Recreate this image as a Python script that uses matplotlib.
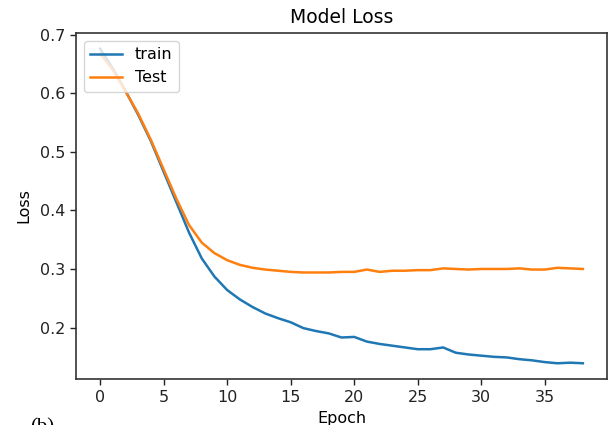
import matplotlib
matplotlib.use('Agg')
import matplotlib.pyplot as plt

epochs = list(range(39))
train_loss = [0.676, 0.642, 0.604, 0.563, 0.518, 0.466, 0.414, 0.362, 0.318, 0.287,
              0.264, 0.248, 0.235, 0.224, 0.216, 0.209, 0.199, 0.194, 0.190, 0.183,
              0.184, 0.176, 0.172, 0.169, 0.166, 0.163, 0.163, 0.166, 0.157, 0.154,
              0.152, 0.150, 0.149, 0.146, 0.144, 0.141, 0.139, 0.140, 0.139]
test_loss = [0.668, 0.640, 0.603, 0.565, 0.520, 0.470, 0.420, 0.375, 0.345, 0.327,
             0.315, 0.307, 0.302, 0.299, 0.297, 0.295, 0.294, 0.294, 0.294, 0.295,
             0.295, 0.299, 0.295, 0.297, 0.297, 0.298, 0.298, 0.301, 0.300, 0.299,
             0.300, 0.300, 0.300, 0.301, 0.299, 0.299, 0.302, 0.301, 0.300]

fig = plt.figure(figsize=(6.1, 4.25), dpi=100)
ax = fig.add_axes([76/610, 1-379/425, (607-76)/610, (379-33)/425])

ax.plot(epochs, train_loss, color='#1f77b4', lw=1.8, label='train')
ax.plot(epochs, test_loss, color='#ff7f0e', lw=1.8, label='Test')

ax.set_title('Model Loss', fontsize=13.5, pad=7)
ax.set_xlabel('Epoch', fontsize=11.5, labelpad=4)
ax.set_ylabel('Loss', fontsize=11.5, labelpad=6)
ax.tick_params(labelsize=11.5, length=4.5, width=1, colors='#222222')
ax.set_xticks([0, 5, 10, 15, 20, 25, 30, 35])
ax.set_yticks([0.2, 0.3, 0.4, 0.5, 0.6, 0.7])
for s in ax.spines.values():
    s.set_color('#333333')
    s.set_linewidth(1.2)
ax.legend(loc='upper left', fontsize=11.5, handlelength=2.0, borderaxespad=0.5)

fig.text(30/610, 1-418/425, '(b)', family='Liberation Serif', fontsize=15, va='top', ha='left')

fig.savefig('out.png', dpi=100)
